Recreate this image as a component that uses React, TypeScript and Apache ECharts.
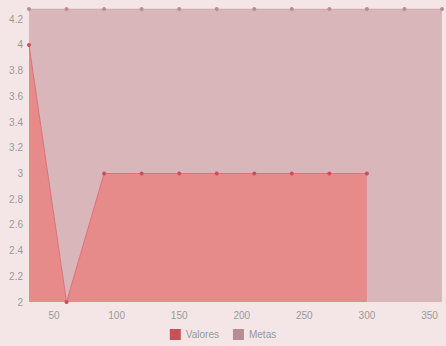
import React, { useEffect, useRef } from "react";
import * as echarts from "echarts";

const valoresX = [30, 60, 90, 120, 150, 180, 210, 240, 270, 300];
const valoresY = [4, 2, 3, 3, 3, 3, 3, 3, 3, 3];
const metasX = [30, 60, 90, 120, 150, 180, 210, 240, 270, 300, 330, 360];
const metasY = [4.28, 4.28, 4.28, 4.28, 4.28, 4.28, 4.28, 4.28, 4.28, 4.28, 4.28, 4.28];
const legendNames = ["Valores", "Metas"];

export default function App() {
  const ref = useRef<HTMLDivElement>(null);
  useEffect(() => {
    document.body.style.margin = "0";
    const chart = echarts.init(ref.current!, undefined, { renderer: "svg" });
    chart.setOption({
      animation: false,
      backgroundColor: "#f4e6e7",
      grid: { left: 29, right: 4, top: 9, bottom: 44 },
      legend: {
        data: legendNames,
        top: 329,
        left: "center",
        icon: "rect",
        padding: 0,
        itemWidth: 11,
        itemHeight: 11,
        itemGap: 14,
        textStyle: { color: "#999", fontSize: 10, fontFamily: "Liberation Sans" },
      },
      xAxis: {
        type: "value",
        min: 30,
        max: 360,
        splitLine: { show: false },
        axisLine: { show: false },
        axisTick: { show: false },
        axisLabel: {
          showMinLabel: false,
          showMaxLabel: false,
          color: "#999",
          fontSize: 10,
          fontFamily: "Liberation Sans",
        },
      },
      yAxis: {
        type: "value",
        min: 2,
        max: 4.28,
        interval: 0.2,
        splitLine: { show: false },
        axisLine: { show: false },
        axisTick: { show: false },
        axisLabel: {
          showMaxLabel: false,
          color: "#999",
          fontSize: 10,
          fontFamily: "Liberation Sans",
          margin: 6,
        },
      },
      series: [
        {
          name: "Metas",
          type: "line",
          data: metasX.map((x, i) => [x, metasY[i]]),
          color: "#c39aa1",
          symbol: "circle",
          symbolSize: 4,
          itemStyle: { color: "#b88c93" },
          lineStyle: { color: "#c9a6ab", width: 1 },
          areaStyle: { color: "#d9b6ba", opacity: 1, origin: "start" },
          z: 1,
        },
        {
          name: "Valores",
          type: "line",
          data: valoresX.map((x, i) => [x, valoresY[i]]),
          color: "#e8545f",
          symbol: "circle",
          symbolSize: 4,
          itemStyle: { color: "#c8505a" },
          lineStyle: { color: "#e0707a", width: 1 },
          areaStyle: { color: "#e68a8a", opacity: 1, origin: "start" },
          z: 2,
        },
      ],
    });
    return () => chart.dispose();
  }, []);
  return <div ref={ref} style={{ width: 446, height: 346 }} />;
}
